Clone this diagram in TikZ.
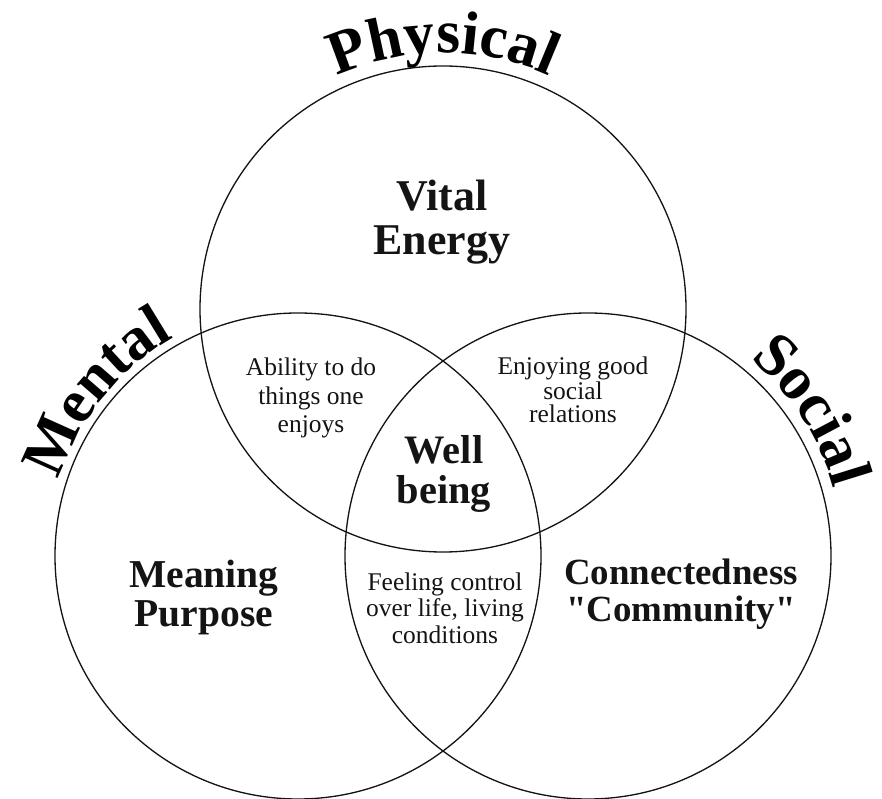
\documentclass[tikz,border=0pt]{standalone}
\usepackage{fontspec}
\setmainfont{Liberation Serif}
\usetikzlibrary{decorations.text}
\definecolor{ink}{gray}{0.08}
\newcommand{\ringfont}{\fontsize{35}{35}\selectfont\bfseries}
\newcommand{\rad}{243}

\begin{document}
\begin{tikzpicture}[x=0.02cm, y=0.02cm,
    ring/.style={draw=ink, line width=0.75pt},
    core/.style={font=\fontsize{#1}{#1}\selectfont\bfseries, align=center, text=ink},
    small/.style={font=\fontsize{14.5}{#1}\selectfont, align=center, text=ink},
    arctext/.style={decorate, decoration={text along path, text align=center,
        text={|\ringfont|#1}}}]
    \useasboundingbox (0,0) rectangle (882,798);
    \path
        (443,489) coordinate (phys)
        (298,242) coordinate (ment)
        (588,242) coordinate (soc);
    % the three circles
    \foreach \c in {phys,ment,soc}
        \draw[ring] (\c) circle (\rad);
    % names set round the outside
    \path[arctext=Physical] (phys) ++(130:256) arc[start angle=130, end angle=50, radius=256];
    \path[arctext=Mental] (ment) ++(171:251) arc[start angle=171, end angle=111, radius=251];
    \path[arctext=Social] (soc) ++(63:255) arc[start angle=63, end angle=3, radius=255];
    % one circle only
    \node[core=25] (vital) at (442,575.5) {Vital\\Energy};
    \node[core=22.5] (meaning) at (204,200.5) {Meaning\\Purpose};
    \node[core=21] (community) at (681,203.5)
        {Connectedness\\\textquotedbl Community\textquotedbl};
    % two circles
    \node[small=16] (ability) at (311,400) {Ability to do\\things one\\enjoys};
    \node[small=13] (relations) at (573,408) {Enjoying good\\social\\relations};
    \node[small=15] (control) at (445,190) {Feeling control\\over life, living\\conditions};
    % all three
    \node[core=23] (wellbeing) at (444,324) {Well\\being};
\end{tikzpicture}
\end{document}
